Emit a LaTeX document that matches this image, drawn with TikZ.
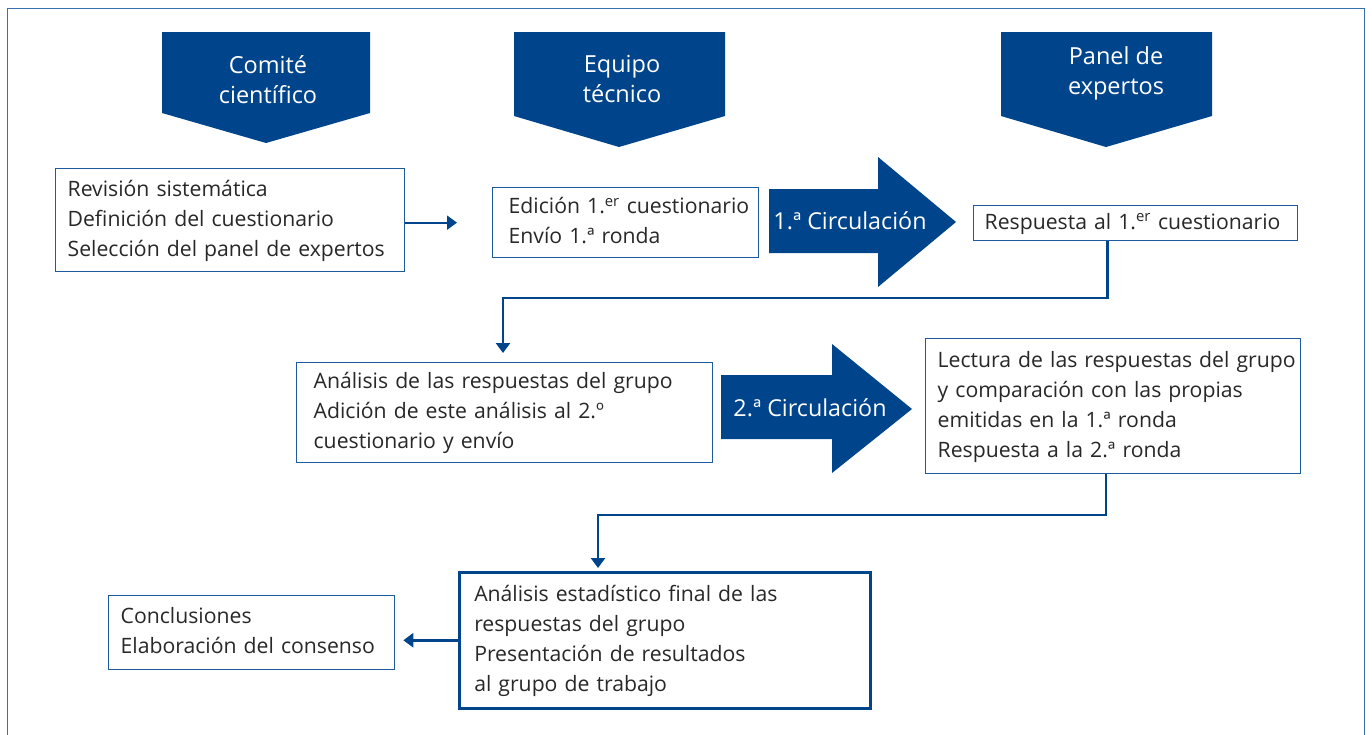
\documentclass[tikz,border=0pt]{standalone}
\usepackage{fontspec}
\setmainfont{Open Sans}
\usepackage{xcolor}
\usetikzlibrary{positioning,arrows.meta,calc}
\definecolor{deepblue}{RGB}{0,69,140}
\definecolor{edgeblue}{RGB}{30,90,160}
\definecolor{frameblue}{RGB}{55,110,180}
\definecolor{textgray}{RGB}{40,40,40}
\newcommand{\boxfont}{\fontsize{21.2}{30}\selectfont}
\newcommand{\bannerfont}{\fontsize{23.5}{30}\selectfont}
\newcommand{\flowfont}{\fontsize{23.3}{26}\selectfont}
\newcommand{\stacklines}[1]{\begin{tabular}{@{}l@{}}#1\end{tabular}}

\begin{document}
\begin{tikzpicture}[x=1pt, y=-1pt, >={Triangle[width=14pt,length=10pt]}]
    \tikzstyle{box} = [rectangle, draw=edgeblue, line width=1.3pt, fill=white, anchor=north west, align=left, text=textgray, font=\boxfont, inner ysep=0pt]
    \tikzstyle{banner} = [fill=deepblue]
    \tikzstyle{bannertext} = [text=white, align=center, font=\bannerfont]
    \tikzstyle{flow} = [fill=deepblue]
    \tikzstyle{flowtext} = [text=white, font=\flowfont]
    \tikzstyle{conn} = [->, draw=deepblue, line width=2.5pt]

    \useasboundingbox (0,0) rectangle (1372,734);
    \draw[frameblue, line width=1pt] (7.5,740) -- (7.5,8) -- (1364.5,8) -- (1364.5,740);

    % Headers
    \fill[banner] (162,32) -- (370,32) -- (370,113) -- (266,143) -- (162,113) -- cycle;
    \node[bannertext] (comite) at (268,80) {Comité\\científico};
    \fill[banner] (514,32) -- (725,32) -- (725,116) -- (619,147) -- (514,116) -- cycle;
    \node[bannertext] (equipo) at (622,79) {Equipo\\técnico};
    \fill[banner] (1001,32) -- (1212,32) -- (1212,116) -- (1106,147) -- (1001,116) -- cycle;
    \node[bannertext] (panel) at (1116,73) {Panel de\\expertos};

    % Steps
    \node[box, minimum width=349pt, minimum height=103pt, text width=325pt, inner xsep=12pt] (revision) at (55,168) {\stacklines{Revisión sistemática\\Definición del cuestionario\\Selección del panel de expertos}};
    \node[box, minimum width=266pt, minimum height=70pt, text width=234pt, inner xsep=16pt] (edicion) at (492,187) {\stacklines{Edición 1.\textsuperscript{er} cuestionario\\Envío 1.ª ronda}};
    \node[box, minimum width=324pt, minimum height=35pt, text width=302pt, inner xsep=11pt] (respuesta) at (973,205) {\stacklines{Respuesta al 1.\textsuperscript{er} cuestionario}};
    \node[box, minimum width=416pt, minimum height=100pt, text width=382pt, inner xsep=17pt] (analisis) at (296,362) {\stacklines{Análisis de las respuestas del grupo\\Adición de este análisis al 2.º\\cuestionario y envío}};
    \node[box, minimum width=375pt, minimum height=135pt, text width=351pt, inner xsep=12pt] (lectura) at (925,338) {\stacklines{Lectura de las respuestas del grupo\\y comparación con las propias\\emitidas en la 1.ª ronda\\Respuesta a la 2.ª ronda}};
    \node[box, draw=deepblue, line width=2.5pt, minimum width=411pt, minimum height=136pt, text width=381pt, inner xsep=15pt] (estadistico) at (458,571) {\stacklines{Análisis estadístico final de las\\respuestas del grupo\\Presentación de resultados\\al grupo de trabajo}};
    \node[box, minimum width=286pt, minimum height=74pt, text width=262pt, inner xsep=12pt] (conclusiones) at (108,595) {\stacklines{Conclusiones\\Elaboración del consenso}};

    % Circulation arrows
    \fill[flow] (769,189) -- (878,189) -- (878,157) -- (956,222) -- (878,287) -- (878,253) -- (769,253) -- cycle;
    \node[flowtext] (circ1) at (850,221) {1.ª Circulación};
    \fill[flow] (721,375) -- (832,375) -- (832,344) -- (912,409) -- (832,473) -- (832,439) -- (721,439) -- cycle;
    \node[flowtext] (circ2) at (810,408) {2.ª Circulación};

    % Connectors
    \coordinate (turn1) at (503,298);
    \coordinate (turn2) at (598,515);
    \draw[conn, line width=2pt, shorten >=35pt] (revision.east |- edicion.west) -- (edicion.west);
    \draw[conn, shorten >=9pt] ([xshift=-28pt]respuesta.south) |- (turn1) -- (turn1 |- analisis.north);
    \draw[conn, shorten >=3pt] ([xshift=-7pt]lectura.south) |- (turn2) -- (turn2 |- estadistico.north);
    \draw[conn, shorten >=8pt] (estadistico.west) -- (estadistico.west -| conclusiones.east);
\end{tikzpicture}
\end{document}
